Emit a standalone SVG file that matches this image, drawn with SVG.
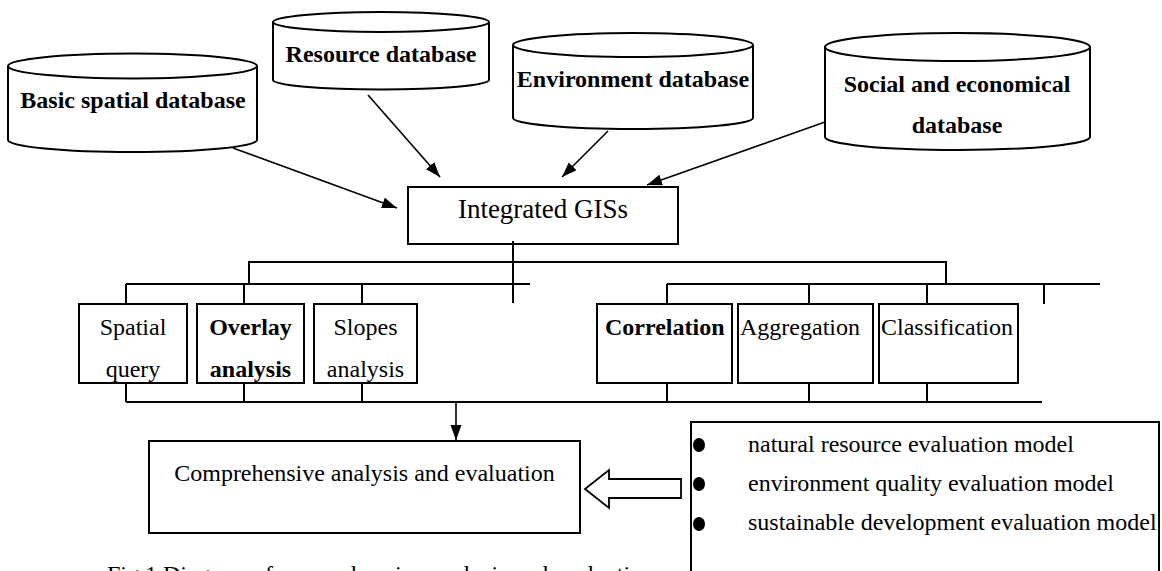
<svg xmlns="http://www.w3.org/2000/svg" width="1162" height="571" viewBox="0 0 1162 571">
<style>
  .shape { fill: #ffffff; stroke: #000000; stroke-width: 2; }
  .line { fill: none; stroke: #000000; stroke-width: 2; }
  .arrow { fill: none; stroke: #000000; stroke-width: 1.6; marker-end: url(#ah); }
  .t { font-family: "Liberation Serif", "Times New Roman", serif; font-size: 24px; fill: #000000; }
  .b { font-weight: bold; }
  .m { text-anchor: middle; }
  .dot { fill: #000000; }
</style>
<defs>
  <marker id="ah" markerUnits="userSpaceOnUse" markerWidth="16" markerHeight="12" refX="15" refY="5.5" orient="auto">
    <path d="M0,0 L15,5.5 L0,11 z" fill="#000000"/>
  </marker>
</defs>
<rect x="0" y="0" width="1162" height="571" fill="#ffffff"/>

<g id="db-basic">
  <path class="shape" d="M8,66 L8,140 A124.5,12 0 0 0 257,140 L257,66"/>
  <ellipse class="shape" cx="132.5" cy="66" rx="124.5" ry="12.5"/>
  <text class="t b m" x="133" y="108">Basic spatial database</text>
</g>
<g id="db-resource">
  <path class="shape" d="M273,22 L273,80 A108,9.5 0 0 0 489,80 L489,22"/>
  <ellipse class="shape" cx="381" cy="22" rx="108" ry="10"/>
  <text class="t b m" x="381" y="62">Resource database</text>
</g>
<g id="db-environment">
  <path class="shape" d="M513,45 L513,118 A120,11 0 0 0 753,118 L753,45"/>
  <ellipse class="shape" cx="633" cy="45" rx="120" ry="12"/>
  <text class="t b m" x="633" y="87">Environment database</text>
</g>
<g id="db-social">
  <path class="shape" d="M825,47 L825,137 A132.5,13 0 0 0 1090,137 L1090,47"/>
  <ellipse class="shape" cx="957.5" cy="47" rx="132.5" ry="14"/>
  <text class="t b m" x="957" y="92">Social and economical</text>
  <text class="t b m" x="957" y="133">database</text>
</g>

<g id="integrated">
  <rect class="shape" x="408" y="187" width="270" height="57"/>
  <text class="t m" x="543" y="218" style="font-size:27px">Integrated GISs</text>
</g>

<g id="spatial-query">
  <rect class="shape" x="79" y="304" width="108" height="79"/>
  <text class="t m" x="133" y="335">Spatial</text>
  <text class="t m" x="133" y="377">query</text>
</g>
<g id="overlay-analysis">
  <rect class="shape" x="197" y="304" width="107" height="79"/>
  <text class="t b m" x="250.5" y="335">Overlay</text>
  <text class="t b m" x="250.5" y="377">analysis</text>
</g>
<g id="slopes-analysis">
  <rect class="shape" x="314" y="304" width="103" height="79"/>
  <text class="t m" x="365.5" y="335">Slopes</text>
  <text class="t m" x="365.5" y="377">analysis</text>
</g>
<g id="correlation">
  <rect class="shape" x="597" y="304" width="135" height="79"/>
  <text class="t b" x="605" y="335">Correlation</text>
</g>
<g id="aggregation">
  <rect class="shape" x="738" y="304" width="135" height="79"/>
  <text class="t" x="740" y="335">Aggregation</text>
</g>
<g id="classification">
  <rect class="shape" x="879" y="304" width="139" height="79"/>
  <text class="t" x="881" y="335">Classification</text>
</g>

<g id="comprehensive">
  <rect class="shape" x="149" y="441" width="431" height="92"/>
  <text class="t m" x="364.5" y="481">Comprehensive analysis and evaluation</text>
</g>

<g id="models">
  <rect class="shape" x="691" y="422" width="468" height="220"/>
  <ellipse class="dot" cx="699" cy="445" rx="6" ry="7"/>
  <ellipse class="dot" cx="699" cy="484" rx="6" ry="7"/>
  <ellipse class="dot" cx="699" cy="524" rx="6" ry="7"/>
  <text class="t" x="748" y="452">natural resource evaluation model</text>
  <text class="t" x="748" y="491">environment quality evaluation model</text>
  <text class="t" x="748" y="530">sustainable development evaluation model</text>
</g>

<g id="connectors">
  <line class="arrow" x1="233" y1="148" x2="397" y2="208"/>
  <line class="arrow" x1="368" y1="95" x2="440" y2="177"/>
  <line class="arrow" x1="608" y1="131" x2="562" y2="177"/>
  <line class="arrow" x1="825" y1="122" x2="647" y2="185"/>

  <line class="line" x1="513" y1="241" x2="513" y2="303"/>
  <polyline class="line" points="249,284 249,262 946,262 946,284"/>
  <line class="line" x1="126" y1="284" x2="530" y2="284"/>
  <line class="line" x1="667" y1="284" x2="1100" y2="284"/>
  <line class="line" x1="126" y1="284" x2="126" y2="304"/>
  <line class="line" x1="244" y1="284" x2="244" y2="304"/>
  <line class="line" x1="362" y1="284" x2="362" y2="304"/>
  <line class="line" x1="667" y1="284" x2="667" y2="304"/>
  <line class="line" x1="809" y1="284" x2="809" y2="304"/>
  <line class="line" x1="927" y1="284" x2="927" y2="304"/>
  <line class="line" x1="1044" y1="284" x2="1044" y2="304"/>

  <line class="line" x1="126" y1="383" x2="126" y2="402"/>
  <line class="line" x1="244" y1="383" x2="244" y2="402"/>
  <line class="line" x1="362" y1="383" x2="362" y2="402"/>
  <line class="line" x1="667" y1="383" x2="667" y2="402"/>
  <line class="line" x1="809" y1="383" x2="809" y2="402"/>
  <line class="line" x1="927" y1="383" x2="927" y2="402"/>
  <line class="line" x1="126" y1="402" x2="1042" y2="402"/>
  <line class="arrow" x1="456" y1="402" x2="456" y2="440"/>

  <polygon class="shape" style="stroke-width:1.8" points="585,489 609,470 609,479 681,479 681,498 609,498 609,508"/>
</g>

<text class="t" x="107" y="582">Fig.1 Diagram of comprehensive analysis and evaluation</text>
</svg>
